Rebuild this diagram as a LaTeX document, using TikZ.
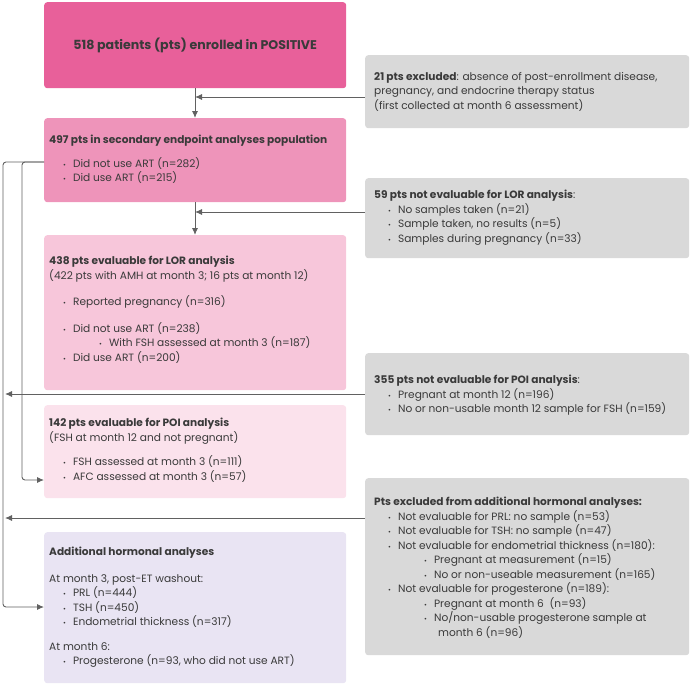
\documentclass[tikz,border=0pt]{standalone}
\usepackage{fontspec}
\setmainfont{Poppins}
\usetikzlibrary{positioning,arrows.meta}
\definecolor{pinkA}{HTML}{E8609A}
\definecolor{pinkB}{HTML}{EE94BA}
\definecolor{pinkC}{HTML}{F7C6DA}
\definecolor{pinkD}{HTML}{FBE2EC}
\definecolor{lav}{HTML}{E9E4F3}
\definecolor{greyA}{HTML}{D9D9D9}
\definecolor{ink}{HTML}{3A3A3A}
\newcommand{\bul}{\hspace*{14pt}{\scriptsize\textbullet}\hspace{7pt}}
\newcommand{\subbul}{\hspace*{50pt}{\scriptsize\textbullet}\hspace{7pt}}
\begin{document}
\begin{tikzpicture}[x=1pt,y=-1pt]
	\tikzset{box/.style={rounded corners=3pt, anchor=north west, inner sep=0pt},
		txt/.style={anchor=north west, align=left, font=\fontsize{10.6}{14.5}\selectfont, text=ink, inner sep=0pt},
		link/.style={draw=ink!80, line width=0.9pt, -{Latex[length=7pt,width=6pt]}}}
	\useasboundingbox (0,0) rectangle (691,685);
	% boxes on the left
	\node[box, fill=pinkA, minimum width=302, minimum height=86] (enrol) at (44,2) {};
	\node[box, fill=pinkB, minimum width=302, minimum height=84] (second) at (44,118) {};
	\node[box, fill=pinkC, minimum width=302, minimum height=155] (lor) at (44,235) {};
	\node[box, fill=pinkD, minimum width=302, minimum height=93] (poi) at (44,405) {};
	\node[box, fill=lav, minimum width=302, minimum height=151] (horm) at (44,532) {};
	% boxes on the right
	\node[box, fill=greyA, minimum width=324, minimum height=73] (exA) at (365,55) {};
	\node[box, fill=greyA, minimum width=324, minimum height=80] (exB) at (365,178) {};
	\node[box, fill=greyA, minimum width=324, minimum height=82] (exC) at (365,353) {};
	\node[box, fill=greyA, minimum width=324, minimum height=177] (exD) at (365,478) {};
	% texts
	\node[font=\fontsize{12.6}{15}\selectfont\bfseries, text=ink] at (enrol.center) {518 patients (pts) enrolled in POSITIVE};
	\node[txt] at (49,135) {\textbf{497 pts in secondary endpoint analyses population}\\[9pt]
		\bul Did not use ART (n=282)\\ \bul Did use ART (n=215)};
	\node[txt] at (49,256) {\textbf{438 pts evaluable for LOR analysis}\\(422 pts with AMH at month 3; 16 pts at month 12)\\[12pt]
		\bul Reported pregnancy (n=316)\\[12pt] \bul Did not use ART (n=238)\\ \subbul With FSH assessed at month 3 (n=187)\\ \bul Did use ART (n=200)};
	\node[txt] at (49,418) {\textbf{142 pts evaluable for POI analysis}\\(FSH at month 12 and not pregnant)\\[10pt]
		\bul FSH assessed at month 3 (n=111)\\ \bul AFC assessed at month 3 (n=57)};
	\node[txt] at (49,547) {\textbf{Additional hormonal analyses}\\[12pt] At month 3, post-ET washout:\\
		\bul PRL (n=444)\\ \bul TSH (n=450)\\ \bul Endometrial thickness (n=317)\\[10pt] At month 6:\\ \bul Progesterone (n=93, who did not use ART)};
	\node[txt] at (374,72) {\textbf{21 pts excluded}: absence of post-enrollment disease,\\pregnancy, and endocrine therapy status\\(first collected at month 6 assessment)};
	\node[txt] at (374,190) {\textbf{59 pts not evaluable for LOR analysis}:\\
		\bul No samples taken (n=21)\\ \bul Sample taken, no results (n=5)\\ \bul Samples during pregnancy (n=33)};
	\node[txt] at (374,375) {\textbf{355 pts not evaluable for POI analysis}:\\
		\bul Pregnant at month 12 (n=196)\\ \bul No or non-usable month 12 sample for FSH (n=159)};
	\node[txt] at (374,497) {\textbf{Pts excluded from additional hormonal analyses:}\\
		\bul Not evaluable for PRL: no sample (n=53)\\ \bul Not evaluable for TSH: no sample (n=47)\\
		\bul Not evaluable for endometrial thickness (n=180):\\ \subbul Pregnant at measurement (n=15)\\ \subbul No or non-useable measurement (n=165)\\
		\bul Not evaluable for progesterone (n=189):\\ \subbul Pregnant at month 6\ \ (n=93)\\ \subbul No/non-usable progesterone sample at\\ \hspace*{64pt}month 6 (n=96)};
	% connectors
	\coordinate (jA) at (195,97);
	\coordinate (jB) at (195,212);
	\coordinate (endC) at (5,394);
	\coordinate (endD) at (5,518);
	\draw[link] (enrol.south -| jA) -- (second.north -| jA);
	\draw[link] (exA.west |- jA) -- (jA);
	\draw[link] (second.south -| jB) -- (lor.north -| jB);
	\draw[link] (exB.west |- jB) -- (jB);
	\draw[link] (exC.west |- endC) -- (endC);
	\draw[link] (exD.west |- endD) -- (endD);
	\draw[link, rounded corners=3pt] (44,162) -- (22,162) -- (22,480) -- (44,480);
	\draw[link, rounded corners=3pt] (44,162) -- (3,162) -- (3,607) -- (44,607);
\end{tikzpicture}
\end{document}
